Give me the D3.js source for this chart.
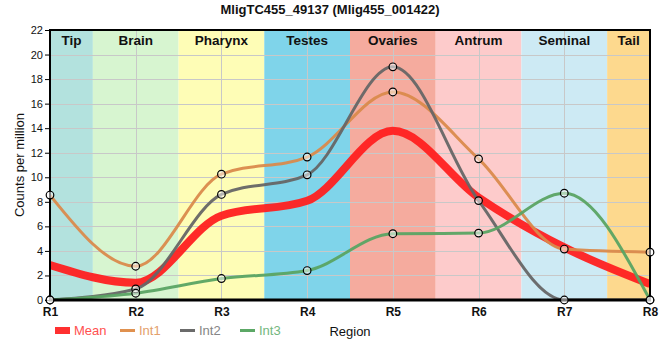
<!DOCTYPE html>
<html><head><meta charset="utf-8">
<script src="https://cdn.jsdelivr.net/npm/d3@7"></script>
<style>
body{margin:0;background:#fff;}
text{font-family:"Liberation Sans",Arial,sans-serif;}
</style></head>
<body><svg id="c" width="660" height="360"></svg>
<script>
const title = "MligTC455_49137 (Mlig455_001422)";
const categories = ["R1","R2","R3","R4","R5","R6","R7","R8"];
const regions = ["Tip","Brain","Pharynx","Testes","Ovaries","Antrum","Seminal","Tail"];
const regionColors = ["#b3e2de","#d7f5d0","#fefdb6","#7fd4ea","#f5ab9e","#fdcbcb","#cdeaf4","#fdd98e"];
const int1 = [8.55, 2.75, 10.25, 11.65, 16.95, 11.5, 4.15, 3.9];
const int2 = [0, 0.9, 8.6, 10.2, 19.0, 8.1, 0, 0];
const int3 = [0, 0.55, 1.75, 2.4, 5.4, 5.45, 8.7, 0];
const meanVals = categories.map((c,i)=>(int1[i]+int2[i]+int3[i])/3);
const yTicks = [0,2,4,6,8,10,12,14,16,18,20,22];

const svg = d3.select("#c");
const m = {l:50, r:10, t:30, b:60};
const W = 660, H = 360;
const x = d3.scalePoint().domain(categories).range([m.l, W-m.r]);
const y = d3.scaleLinear().domain([0,22]).range([H-m.b, m.t]);
const step = x.step();
const bandL = i => Math.max(m.l, x(categories[i])-step/2);
const bandR = i => Math.min(W-m.r, x(categories[i])+step/2);

// bands
svg.append("g").selectAll("rect").data(regions).join("rect")
  .attr("x",(d,i)=>bandL(i)).attr("width",(d,i)=>bandR(i)-bandL(i))
  .attr("y",m.t).attr("height",y(0)-m.t)
  .attr("fill",(d,i)=>regionColors[i]);

// grid
const grid = svg.append("g").attr("stroke","#c8c8c8").attr("stroke-width",1);
grid.selectAll("line.h").data(yTicks).join("line")
  .attr("x1",m.l).attr("x2",W-m.r).attr("y1",d=>Math.round(y(d))+0.5).attr("y2",d=>Math.round(y(d))+0.5);
grid.selectAll("line.v").data(categories).join("line")
  .attr("y1",m.t).attr("y2",y(0)).attr("x1",d=>Math.round(x(d))+0.5).attr("x2",d=>Math.round(x(d))+0.5);

// region labels
svg.append("g").selectAll("text").data(regions).join("text")
  .attr("x",(d,i)=>(bandL(i)+bandR(i))/2)
  .attr("y",m.t+15).attr("text-anchor","middle")
  .attr("font-size","13.5px").attr("font-weight","bold").attr("fill","#111")
  .text(d=>d);

svg.append("defs").append("clipPath").attr("id","clip").append("rect")
  .attr("x",m.l).attr("y",m.t-5).attr("width",W-m.r-m.l).attr("height",y(0)-m.t+5);

const line = d3.line().x((d,i)=>x(categories[i])).y(d=>y(d)).curve(d3.curveMonotoneX);
const lines = svg.append("g").attr("clip-path","url(#clip)");
const series = [
  {name:"Int1", vals:int1, color:"#da8a4c", w:3},
  {name:"Int2", vals:int2, color:"#666666", w:3},
  {name:"Int3", vals:int3, color:"#5aa463", w:3}
];
lines.append("path").attr("d",line(meanVals)).attr("fill","none")
  .attr("stroke","#ff2020").attr("stroke-opacity",0.95).attr("stroke-width",8);
series.forEach(s=>{
  lines.append("path").attr("d",line(s.vals)).attr("fill","none")
    .attr("stroke",s.color).attr("stroke-opacity",0.95).attr("stroke-width",s.w);
});

// axes frame
const ax = svg.append("g");
ax.append("rect").attr("x",m.l).attr("y",m.t).attr("width",W-m.r-m.l).attr("height",y(0)-m.t)
  .attr("fill","none").attr("stroke","#000").attr("stroke-width",2);
ax.append("line").attr("x1",m.l-1).attr("x2",W-m.r+1).attr("y1",y(0)).attr("y2",y(0)).attr("stroke","#000").attr("stroke-width",3);

const yAxis = svg.append("g").attr("transform",`translate(${m.l},0)`)
  .call(d3.axisLeft(y).tickValues(yTicks).tickSize(5).tickPadding(2));
yAxis.select(".domain").remove();
yAxis.selectAll("text").attr("font-family","Liberation Sans, Arial, sans-serif").attr("font-size","11px").attr("fill","#111");
yAxis.selectAll("line").attr("stroke","#000");

const xAxis = svg.append("g").attr("transform",`translate(0,${y(0)})`)
  .call(d3.axisBottom(x).tickSize(0).tickPadding(7));
xAxis.select(".domain").remove();
xAxis.selectAll("text").attr("font-family","Liberation Sans, Arial, sans-serif").attr("font-size","12px").attr("font-weight","bold").attr("fill","#111");

// points
const pts = svg.append("g");
series.forEach(s=>{
  pts.selectAll(null).data(s.vals).join("circle")
    .attr("cx",(d,i)=>x(categories[i])).attr("cy",d=>y(d)).attr("r",3.8)
    .attr("fill","#fff").attr("fill-opacity",0.5).attr("stroke","#000").attr("stroke-width",1.2);
});

// title
svg.append("text").attr("x",W/2).attr("y",14).attr("text-anchor","middle")
  .attr("font-size","13px").attr("font-weight","bold").attr("fill","#111").text(title);

// y title
svg.append("text").attr("transform",`translate(24,${(m.t+y(0))/2}) rotate(-90)`)
  .attr("text-anchor","middle").attr("font-size","13px").attr("fill","#111").text("Counts per million");

// legend
const leg = svg.append("g");
const legItems = [
  {name:"Mean", color:"#ff3030", tc:"#ff5050", rect:true, x:55},
  {name:"Int1", color:"#e0914f", tc:"#e3a06c", x:120},
  {name:"Int2", color:"#6b6b6b", tc:"#858585", x:180},
  {name:"Int3", color:"#5ca866", tc:"#74b77e", x:240}
];
legItems.forEach(d=>{
  if(d.rect) leg.append("rect").attr("x",d.x).attr("y",327).attr("width",15).attr("height",7).attr("fill",d.color);
  else leg.append("line").attr("x1",d.x).attr("x2",d.x+15).attr("y1",330.5).attr("y2",330.5).attr("stroke",d.color).attr("stroke-width",3);
  leg.append("text").attr("x",d.x+19).attr("y",335).attr("font-size","13px").attr("fill",d.tc).text(d.name);
});
svg.append("text").attr("x",350).attr("y",336).attr("text-anchor","middle")
  .attr("font-size","13px").attr("fill","#111").text("Region");
</script></body></html>
